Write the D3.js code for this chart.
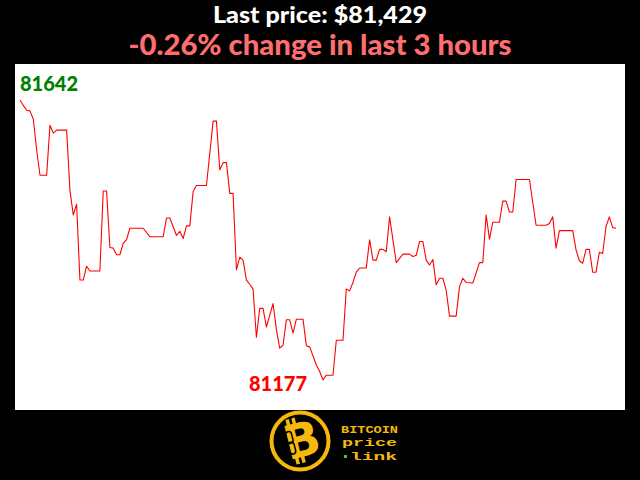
<!DOCTYPE html>
<html>
<head>
<meta charset="utf-8">
<script src="https://cdn.jsdelivr.net/npm/d3@7"></script>
<style>
  html, body { margin: 0; padding: 0; background: #000; }
  svg { display: block; }
</style>
</head>
<body>
<svg id="chart" width="640" height="480"></svg>
<script>
// ---- data (minutes since start of the 3-hour window, BTC price in USD) ----
const minutes = [0,1,2,3,4,5,6,8,9,10,11,14,15,16,17,18,19,20,21,24,25,26,27,28,29,30,31,32,33,37,39,43,44,45,47,48,49,50,51,52,53,56,58,59,60,61,62,63,64,65,66,67,68,69,70,71,72,73,74,76,77,78,79,80,81,82,83,85,86,87,89,90,91,92,94,95,97,98,99,100,101,102,104,105,106,107,108,109,110,111,113,115,117,118,119,120,121,122,123,124,125,126,127,128,129,131,132,133,134,136,138,139,140,141,142,144,145,146,147,148,149,153,155,158,159,160,161,162,166,167,168,169,170,171,172,173,174,175,176,177,178,179];
const prices = [81642,81633,81625,81624,81610,81559,81517,81517,81600,81587,81592,81592,81492,81451,81469,81343,81343,81366,81358,81358,81491,81491,81397,81396,81385,81385,81404,81410,81429,81429,81415,81415,81446,81446,81417,81424,81412,81433,81433,81490,81500,81500,81607,81607,81526,81538,81538,81487,81487,81360,81381,81376,81343,81336,81328,81248,81296,81296,81265,81304,81261,81230,81235,81277,81277,81255,81278,81278,81234,81232,81202,81191,81177,81185,81185,81243,81243,81328,81325,81339,81356,81363,81363,81410,81376,81376,81394,81394,81390,81448,81372,81386,81386,81382,81384,81407,81407,81376,81368,81377,81335,81346,81346,81326,81283,81283,81332,81346,81339,81338,81372,81372,81451,81411,81439,81439,81474,81474,81456,81456,81510,81510,81434,81434,81437,81448,81396,81425,81425,81393,81375,81371,81394,81394,81356,81356,81389,81387,81432,81448,81430,81429];
const windowHours = 3;
const logoLines = ["BITCOIN", "price", "link"];

// ---- derived values ----
const data = minutes.map((m, i) => ({ m, p: prices[i] }));
const first = prices[0], last = prices[prices.length - 1];
const changePct = (last - first) / first * 100;
const maxD = data.reduce((a, b) => (b.p > a.p ? b : a));
const minD = data.reduce((a, b) => (b.p < a.p ? b : a));

const svg = d3.select("#chart");
const W = 640, H = 480;
svg.append("rect").attr("width", W).attr("height", H).attr("fill", "#000");

// plot panel
const panel = { x0: 15, x1: 625, y0: 64, y1: 410 };
svg.append("rect")
  .attr("x", panel.x0).attr("y", panel.y0)
  .attr("width", panel.x1 - panel.x0).attr("height", panel.y1 - panel.y0)
  .attr("fill", "#fff");

const x = d3.scaleLinear().domain([0, d3.max(minutes)]).range([20, 616]);
const y = d3.scaleLinear().domain([minD.p, maxD.p]).range([380, 100]);

const line = d3.line().x(d => x(d.m)).y(d => y(d.p));
svg.append("path")
  .datum(data)
  .attr("d", line)
  .attr("fill", "none")
  .attr("stroke", "#ff0000")
  .attr("stroke-width", 1.1)
  .attr("stroke-linejoin", "round");

// max / min labels
svg.append("text")
  .attr("x", x(maxD.m)).attr("y", y(maxD.p) - 9)
  .attr("text-anchor", "start")
  .attr("font-family", "Lato, sans-serif").attr("font-weight", 900)
  .attr("font-size", 20).attr("fill", "#008000")
  .text(maxD.p);
svg.append("text")
  .attr("x", x(minD.m) - 16).attr("y", y(minD.p) + 11)
  .attr("text-anchor", "end")
  .attr("font-family", "Lato, sans-serif").attr("font-weight", 900)
  .attr("font-size", 20).attr("fill", "#ff0000")
  .text(minD.p);

// titles
const fmt = d3.format(",");
const pct = (changePct < 0 ? "-" : "+") + Math.abs(changePct).toFixed(2);
svg.append("text")
  .attr("x", 320).attr("y", 22.5)
  .attr("text-anchor", "middle")
  .attr("font-family", "Lato, sans-serif").attr("font-weight", 900)
  .attr("font-size", 22.5).attr("fill", "#fff")
  .attr("textLength", 214).attr("lengthAdjust", "spacingAndGlyphs")
  .text("Last price: $" + fmt(last));
svg.append("text")
  .attr("x", 320).attr("y", 55)
  .attr("text-anchor", "middle")
  .attr("font-family", "Lato, sans-serif").attr("font-weight", 900)
  .attr("font-size", 27.5).attr("fill", "#ff6e6e")
  .attr("textLength", 383).attr("lengthAdjust", "spacingAndGlyphs")
  .text(pct + "% change in last " + windowHours + " hours");

// logo
const gold = "#f5b80c";
const logo = svg.append("g").attr("transform", "translate(300,441)");
logo.append("circle").attr("r", 28.5).attr("fill", "#000")
  .attr("stroke", gold).attr("stroke-width", 4);
const bsym = logo.append("g").attr("transform", "rotate(-14)");
bsym.append("text")
  .attr("x", 2).attr("y", 16)
  .attr("text-anchor", "middle")
  .attr("font-family", "'DejaVu Sans', sans-serif").attr("font-weight", 700)
  .attr("font-size", 47).attr("fill", gold)
  .text("B");
[-9, -3].forEach(dx => {
  bsym.append("rect").attr("x", dx).attr("y", -24).attr("width", 3.5).attr("height", 7).attr("fill", gold);
  bsym.append("rect").attr("x", dx).attr("y", 15).attr("width", 3.5).attr("height", 7).attr("fill", gold);
});
bsym.append("rect").attr("x", -12.5).attr("y", -12).attr("width", 6).attr("height", 12)
  .attr("rx", 3).attr("fill", "none").attr("stroke", "#000").attr("stroke-width", 1.5);
bsym.append("rect").attr("x", -12.5).attr("y", -1).attr("width", 6).attr("height", 12)
  .attr("rx", 3).attr("fill", "none").attr("stroke", "#000").attr("stroke-width", 1.5);

const logoText = [
  { t: logoLines[0], x: 341, y: 433, w: 57 },
  { t: logoLines[1], x: 342, y: 446, w: 55 },
  { t: logoLines[2], x: 350, y: 460, w: 47 }
];
logoText.forEach(d => {
  svg.append("text")
    .attr("x", d.x).attr("y", d.y)
    .attr("font-family", "'Liberation Mono', 'DejaVu Sans Mono', monospace")
    .attr("font-weight", 700).attr("font-size", 11.5).attr("fill", gold)
    .attr("textLength", d.w).attr("lengthAdjust", "spacingAndGlyphs")
    .text(d.t);
});
svg.append("rect").attr("x", 344).attr("y", 455).attr("width", 3).attr("height", 3).attr("fill", "#33cc33");
</script>
</body>
</html>
